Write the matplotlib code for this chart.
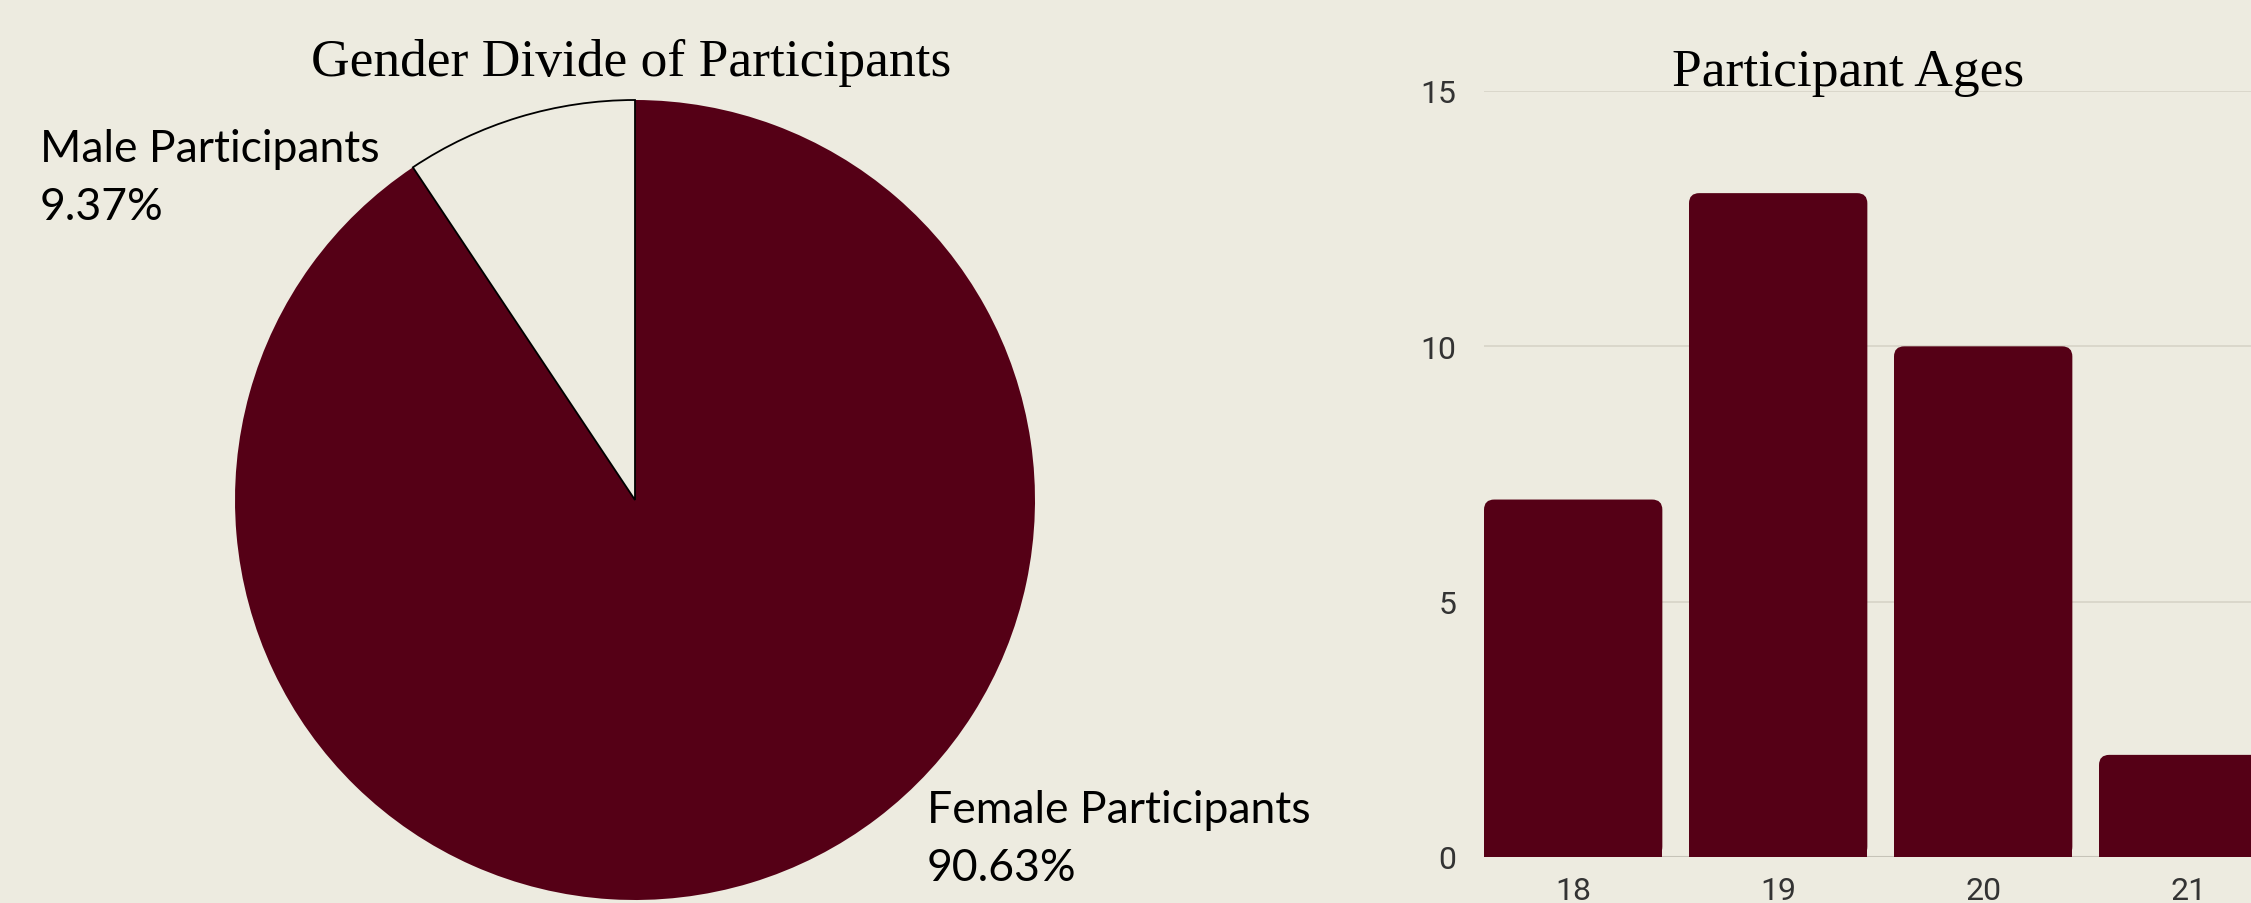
import matplotlib
matplotlib.use("Agg")
import matplotlib.pyplot as plt
from matplotlib.patches import FancyBboxPatch

# ── data ────────────────────────────────────────────────
gender_labels = ["Male Participants", "Female Participants"]
gender_share = [9.37, 90.63]

ages = ["18", "19", "20", "21"]
age_counts = [7, 13, 10, 2]
y_ticks = [0, 5, 10, 15]

# ── style ───────────────────────────────────────────────
BG = "#EDEBE0"
MAROON = "#550016"
GRID = "#D8D5C9"
W, H = 2251, 904

fig = plt.figure(figsize=(W / 100, H / 100), dpi=100, facecolor=BG)


def px(x, y_top, w, h):
    """pixel box (from top-left) -> figure fraction rect"""
    return [x / W, 1 - (y_top + h) / H, w / W, h / H]


# ── pie: gender divide ─────────────────────────────────
ax1 = fig.add_axes(px(235, 101, 800, 800))
ax1.set_facecolor(BG)
wedges, _ = ax1.pie(gender_share, colors=[BG, MAROON], startangle=90,
                    counterclock=True, radius=1.0)
wedges[0].set_edgecolor("black")
wedges[0].set_linewidth(1.3)
wedges[0].set_zorder(3)
wedges[1].set_edgecolor("none")
ax1.set_xlim(-1.0, 1.0)
ax1.set_ylim(-1.0, 1.0)
ax1.axis("off")

fig.text(631 / W, 1 - 76 / H, "Gender Divide of Participants",
         ha="center", va="baseline", fontsize=38.5, family="Liberation Serif")

label_font = dict(fontsize=32, family="Lato", va="baseline", ha="left")
fig.text(40 / W, 1 - 162 / H, gender_labels[0], **label_font)
fig.text(40 / W, 1 - 220 / H, f"{gender_share[0]:.2f}%", **label_font)
fig.text(927 / W, 1 - 823 / H, gender_labels[1], **label_font)
fig.text(927 / W, 1 - 881 / H, f"{gender_share[1]:.2f}%", **label_font)

# ── bars: participant ages ─────────────────────────────
ax2 = fig.add_axes(px(1484, 92, W - 1484, 766))
ax2.set_facecolor(BG)
bar_w = 0.87
xs = range(len(ages))

# square bottoms, rounded tops
ax2.bar(xs, [v / 2 for v in age_counts], width=bar_w, color=MAROON, zorder=2)
for x, v in zip(xs, age_counts):
    ax2.add_patch(FancyBboxPatch((x - bar_w / 2, 0), bar_w, v,
                                 boxstyle="round,pad=0,rounding_size=0.05",
                                 mutation_aspect=4.0,
                                 facecolor=MAROON, edgecolor="none", zorder=2))

ax2.set_xlim(-bar_w / 2, -bar_w / 2 + (W - 1484) / 205)
ax2.set_ylim(0, 15)
ax2.set_yticks(y_ticks)
ax2.set_xticks(list(xs))
ax2.set_xticklabels(ages)
ax2.grid(axis="y", color=GRID, linewidth=1.3, zorder=0)
ax2.axhline(0, color="#C6C3B8", linewidth=1.5, zorder=1)
ax2.set_axisbelow(True)
for s in ax2.spines.values():
    s.set_visible(False)
ax2.tick_params(length=0, labelsize=23, labelcolor="#333333")
ax2.tick_params(axis="y", pad=20)
ax2.tick_params(axis="x", pad=14)
for lab in ax2.get_xticklabels() + ax2.get_yticklabels():
    lab.set_family("Roboto")

fig.text(1848 / W, 1 - 86 / H, "Participant Ages",
         ha="center", va="baseline", fontsize=38.5, family="Liberation Serif")

fig.savefig("out.png", dpi=100, facecolor=BG)
